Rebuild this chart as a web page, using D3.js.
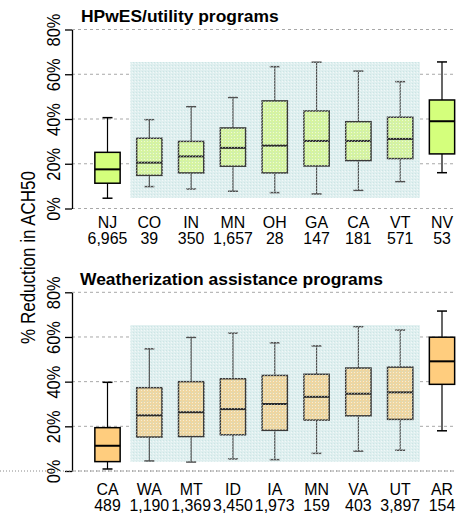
<!DOCTYPE html>
<html>
<head>
<meta charset="utf-8">
<script src="https://cdn.jsdelivr.net/npm/d3@7"></script>
<style>
  body { margin: 0; background: #fff; }
  svg { display: block; font-family: "Liberation Sans", Arial, sans-serif; }
</style>
</head>
<body>
<div id="chart"></div>
<script>
// ---- data (percent reduction in ACH50) ----
const yTicks = [0, 20, 40, 60, 80];

const topTitle = "HPwES/utility programs";
const topCats = ["NJ", "CO", "IN", "MN", "OH", "GA", "CA", "VT", "NV"];
const topCounts = ["6,965", "39", "350", "1,657", "28", "147", "181", "571", "53"];
const topMin = [4.6, 9.8, 8.7, 7.7, 7.1, 6.5, 8.1, 12.0, 16.0];
const topQ1 = [11.3, 14.8, 15.9, 18.9, 15.9, 19.0, 21.4, 22.3, 24.4];
const topMed = [17.5, 20.5, 23.3, 27.1, 28.1, 30.2, 30.2, 31.1, 39.0];
const topQ3 = [25.1, 31.4, 30.0, 36.0, 48.1, 43.6, 38.8, 40.8, 48.5];
const topMax = [40.6, 39.7, 45.5, 49.6, 63.4, 65.4, 61.4, 56.7, 65.5];
const topShade = [4.8, 65.5];

const botTitle = "Weatherization assistance programs";
const botCats = ["CA", "WA", "MT", "ID", "IA", "MN", "VA", "UT", "AR"];
const botCounts = ["489", "1,190", "1,369", "3,450", "1,973", "159", "403", "3,897", "154"];
const botMin = [0.9, 4.5, 4.0, 5.4, 5.1, 7.9, 8.9, 9.3, 18.0];
const botQ1 = [4.2, 15.2, 15.4, 16.2, 18.2, 22.8, 24.7, 23.1, 38.8];
const botMed = [11.3, 24.9, 26.3, 27.7, 30.0, 33.2, 34.6, 35.2, 49.1];
const botQ3 = [19.4, 37.3, 40.0, 41.3, 42.8, 43.3, 46.1, 46.5, 59.9];
const botMax = [39.7, 54.7, 59.8, 61.7, 57.4, 56.0, 64.6, 63.1, 71.6];
const botShade = [4.2, 65.3];

const yLabel = "% Reduction in ACH50";

const W = 466, H = 519;
const SX = 1.14; // the original text looks stretched sideways
const LX = 1.02; // state labels / counts: keep them from running together

const svg = d3.select("#chart").append("svg")
    .attr("width", W)
    .attr("height", H);

// stipple pattern for the shaded band
const defs = svg.append("defs");
const pat = defs.append("pattern")
    .attr("id", "stip")
    .attr("width", 3).attr("height", 3)
    .attr("patternUnits", "userSpaceOnUse");
pat.append("rect").attr("width", 1).attr("height", 1).attr("fill", "#ffffff").attr("opacity", 0.55);
pat.append("rect").attr("x", 1).attr("y", 2).attr("width", 1).attr("height", 1).attr("fill", "#b9dcdc").attr("opacity", 0.5);

function panel(opt) {
    let g = svg.append("g");

    let x = d3.scalePoint().domain(opt.cats).range([107.5, 442]);
    let step = x.step();
    let y = d3.scaleLinear().domain([0, 80]).range([opt.y0, opt.y80]);

    let rows = opt.cats.map((c, i) => ({
        cat: c, n: opt.counts[i], min: opt.min[i], q1: opt.q1[i],
        med: opt.med[i], q3: opt.q3[i], max: opt.max[i],
        inner: i > 0 && i < opt.cats.length - 1
    }));

    // gridlines
    g.selectAll(".grid").data(yTicks).join("line")
        .attr("x1", 72).attr("x2", 453)
        .attr("y1", d => y(d)).attr("y2", d => y(d))
        .attr("stroke", "#a8a8a8").attr("stroke-width", 1)
        .attr("stroke-dasharray", "3,3");

    // shaded band behind the middle states
    let sx0 = x(opt.cats[1]) - step * 0.45;
    let sx1 = x(opt.cats[opt.cats.length - 2]) + step * 0.47;
    g.append("rect")
        .attr("x", sx0).attr("width", sx1 - sx0)
        .attr("y", y(opt.shade[1])).attr("height", y(opt.shade[0]) - y(opt.shade[1]))
        .attr("fill", "#dfefef");

    let bw = step * 0.605, cw = 10;
    let box = g.selectAll(".box").data(rows).join("g");

    box.append("line")
        .attr("x1", d => x(d.cat)).attr("x2", d => x(d.cat))
        .attr("y1", d => y(d.max)).attr("y2", d => y(d.q3))
        .attr("stroke", d => d.inner ? "#505050" : "#000").attr("stroke-width", 1.2);
    box.append("line")
        .attr("x1", d => x(d.cat)).attr("x2", d => x(d.cat))
        .attr("y1", d => y(d.q1)).attr("y2", d => y(d.min))
        .attr("stroke", d => d.inner ? "#505050" : "#000").attr("stroke-width", 1.2);
    box.selectAll(".cap").data(d => [d, d].map((e, k) => ({cat: e.cat, v: k ? e.min : e.max, inner: e.inner})))
        .join("line")
        .attr("x1", d => x(d.cat) - cw / 2).attr("x2", d => x(d.cat) + cw / 2)
        .attr("y1", d => y(d.v)).attr("y2", d => y(d.v))
        .attr("stroke", d => d.inner ? "#505050" : "#000").attr("stroke-width", 1.5);

    box.append("rect")
        .attr("x", d => x(d.cat) - bw / 2).attr("width", bw)
        .attr("y", d => y(d.q3)).attr("height", d => y(d.q1) - y(d.q3))
        .attr("fill", d => d.inner ? opt.innerFill : opt.fill)
        .attr("stroke", d => d.inner ? "#3a3a3a" : "#000").attr("stroke-width", 1.5);
    box.append("line")
        .attr("x1", d => x(d.cat) - bw / 2).attr("x2", d => x(d.cat) + bw / 2)
        .attr("y1", d => y(d.med)).attr("y2", d => y(d.med))
        .attr("stroke", d => d.inner ? "#2a2a2a" : "#000").attr("stroke-width", 2);

    // stipple overlay on the shaded band
    g.append("rect")
        .attr("x", sx0).attr("width", sx1 - sx0)
        .attr("y", y(opt.shade[1])).attr("height", y(opt.shade[0]) - y(opt.shade[1]))
        .attr("fill", "url(#stip)");

    // y axis
    let ax = g.append("g")
        .attr("transform", "translate(72,0)")
        .call(d3.axisLeft(y).tickValues(yTicks).tickSize(7).tickSizeOuter(0).tickFormat(d => d + "%"));
    ax.select(".domain").attr("stroke", "#000").attr("stroke-width", 1.3);
    ax.selectAll(".tick line").attr("stroke", "#000").attr("stroke-width", 1.3);
    ax.selectAll(".tick text")
        .attr("x", null).attr("dy", null)
        .attr("transform", `translate(-12,0) scale(${SX},1) rotate(-90)`)
        .attr("text-anchor", "middle")
        .attr("font-size", 16.4)
        .attr("font-family", "Liberation Sans, Arial, sans-serif")
        .attr("fill", "#000");

    // title
    g.append("text")
        .attr("transform", `translate(${opt.titleX},${opt.titleY}) scale(1.07,1)`)
        .attr("font-size", 16.3).attr("font-weight", "bold")
        .text(opt.title);

    // category labels and counts
    g.selectAll(".cat").data(rows).join("text")
        .attr("transform", d => `translate(${x(d.cat)},${opt.labY}) scale(${LX},1)`)
        .attr("text-anchor", "middle").attr("font-size", 15.6)
        .text(d => d.cat);
    g.selectAll(".cnt").data(rows).join("text")
        .attr("transform", d => `translate(${x(d.cat)},${opt.labY + 16.6}) scale(${LX},1)`)
        .attr("text-anchor", "middle").attr("font-size", 15.6)
        .text(d => d.n);

    return y;
}

panel({
    title: topTitle, titleX: 81, titleY: 21.5,
    cats: topCats, counts: topCounts,
    min: topMin, q1: topQ1, med: topMed, q3: topQ3, max: topMax,
    shade: topShade, y0: 208.5, y80: 29.5, labY: 227.7,
    fill: "#d4ff7c", innerFill: "#d6f4a0"
});

let yb = panel({
    title: botTitle, titleX: 80, titleY: 285,
    cats: botCats, counts: botCounts,
    min: botMin, q1: botQ1, med: botMed, q3: botQ3, max: botMax,
    shade: botShade, y0: 471, y80: 292.3, labY: 494.6,
    fill: "#ffcd7e", innerFill: "#efd6a0"
});

// dotted baseline under the lower panel, across the page
svg.append("line")
    .attr("x1", 0).attr("x2", 455)
    .attr("y1", yb(0)).attr("y2", yb(0))
    .attr("stroke", "#8a8a8a").attr("stroke-width", 1)
    .attr("stroke-dasharray", "1,2");

// shared y-axis title
svg.append("text")
    .attr("transform", `translate(35,257.5) scale(${SX},1) rotate(-90)`)
    .attr("text-anchor", "middle")
    .attr("font-size", 17)
    .text(yLabel);
</script>
</body>
</html>
